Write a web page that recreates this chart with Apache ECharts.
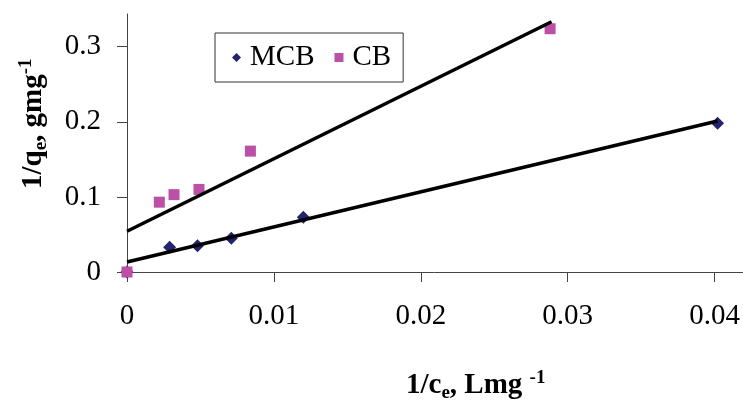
<!DOCTYPE html>
<html>
<head>
<meta charset="utf-8">
<script src="https://cdn.jsdelivr.net/npm/echarts@6/dist/echarts.min.js"></script>
<style>
  html, body { margin: 0; padding: 0; background: #fff; }
  #chart { width: 743px; height: 401px; }
</style>
</head>
<body>
<div id="chart"></div>
<script>
// data
const mcbX = [0, 0.0029, 0.0048, 0.0071, 0.0120, 0.0402]
const mcbY = [0, 0.033, 0.035, 0.045, 0.073, 0.198]
const cbX = [0, 0.0022, 0.0032, 0.0049, 0.0084, 0.0288]
const cbY = [0, 0.093, 0.103, 0.110, 0.161, 0.324]
// trend line end points
const mcbFit = [[0, 0.0133], [0.0402, 0.201]]
const cbFit = [[0, 0.0543], [0.0289, 0.3333]]
const xTicks = [0, 0.01, 0.02, 0.03, 0.04]
const yTicks = [0, 0.1, 0.2, 0.3]

const font = "'Liberation Serif', 'Times New Roman', serif"
const axisColor = '#444'

const zip = (xs, ys) => xs.map((x, i) => [x, ys[i]])

const titleRich = {
  m: { fontFamily: font, fontSize: 29, fontWeight: 'bold', lineHeight: 34 },
  s: { fontFamily: font, fontSize: 19, fontWeight: 'bold', lineHeight: 18, verticalAlign: 'bottom' },
  p: { fontFamily: font, fontSize: 19, fontWeight: 'bold', lineHeight: 18, verticalAlign: 'top' }
}

const myChart = echarts.init(document.getElementById('chart'))
const option = {
  backgroundColor: '#fff',
  animation: false,
  grid: { left: 127, top: 14, right: 0, bottom: 129 },
  legend: {
    data: [
      { name: 'MCB', icon: 'diamond' },
      { name: 'CB', icon: 'rect' }
    ],
    left: 215,
    top: 33,
    width: 190,
    padding: [10, 12, 10, 17],
    itemWidth: 9,
    itemHeight: 9,
    itemGap: 20,
    borderColor: '#333',
    borderWidth: 1,
    borderRadius: 0,
    textStyle: { fontFamily: font, fontSize: 29, color: '#000', padding: [0, 0, 0, 4] }
  },
  xAxis: {
    type: 'value',
    min: 0,
    max: 0.0419,
    interval: 0.01,
    splitLine: { show: false },
    axisLine: { lineStyle: { color: axisColor, width: 1 } },
    axisTick: { length: 10, lineStyle: { color: axisColor }, customValues: xTicks },
    axisLabel: {
      customValues: xTicks,
      margin: 30,
      fontFamily: font,
      fontSize: 29,
      color: '#000',
      formatter: v => String(+v.toFixed(2))
    }
  },
  yAxis: {
    type: 'value',
    min: 0,
    max: 0.3436,
    interval: 0.1,
    splitLine: { show: false },
    axisLine: { show: true, lineStyle: { color: axisColor, width: 1 } },
    axisTick: { show: true, length: 10, lineStyle: { color: axisColor }, customValues: yTicks },
    axisLabel: {
      customValues: yTicks,
      margin: 26,
      fontFamily: font,
      fontSize: 29,
      color: '#000',
      formatter: v => String(+v.toFixed(1))
    }
  },
  series: [
    {
      name: 'MCB',
      type: 'scatter',
      symbol: 'diamond',
      symbolSize: 13,
      clip: false,
      itemStyle: { color: '#232370', opacity: 1 },
      data: zip(mcbX, mcbY)
    },
    {
      name: 'CB',
      type: 'scatter',
      symbol: 'rect',
      symbolSize: 11,
      clip: false,
      itemStyle: { color: '#BB50A6', opacity: 1 },
      data: zip(cbX, cbY)
    },
    {
      name: 'MCB fit',
      type: 'line',
      symbol: 'none',
      lineStyle: { color: '#000', width: 3.5 },
      data: mcbFit
    },
    {
      name: 'CB fit',
      type: 'line',
      symbol: 'none',
      lineStyle: { color: '#000', width: 3.5 },
      data: cbFit
    }
  ],
  graphic: [
    {
      type: 'text',
      left: 406,
      top: 369,
      style: {
        text: '{m|1/c}{s|e}{m|, Lmg }{p|-1}',
        fill: '#000',
        rich: titleRich
      }
    },
    {
      type: 'text',
      x: 17,
      y: 189,
      rotation: Math.PI / 2,
      style: {
        text: '{m|1/q}{s|e}{m|, gmg}{p|-1}',
        fill: '#000',
        rich: titleRich
      }
    }
  ]
}
option && myChart.setOption(option)
</script>
</body>
</html>
